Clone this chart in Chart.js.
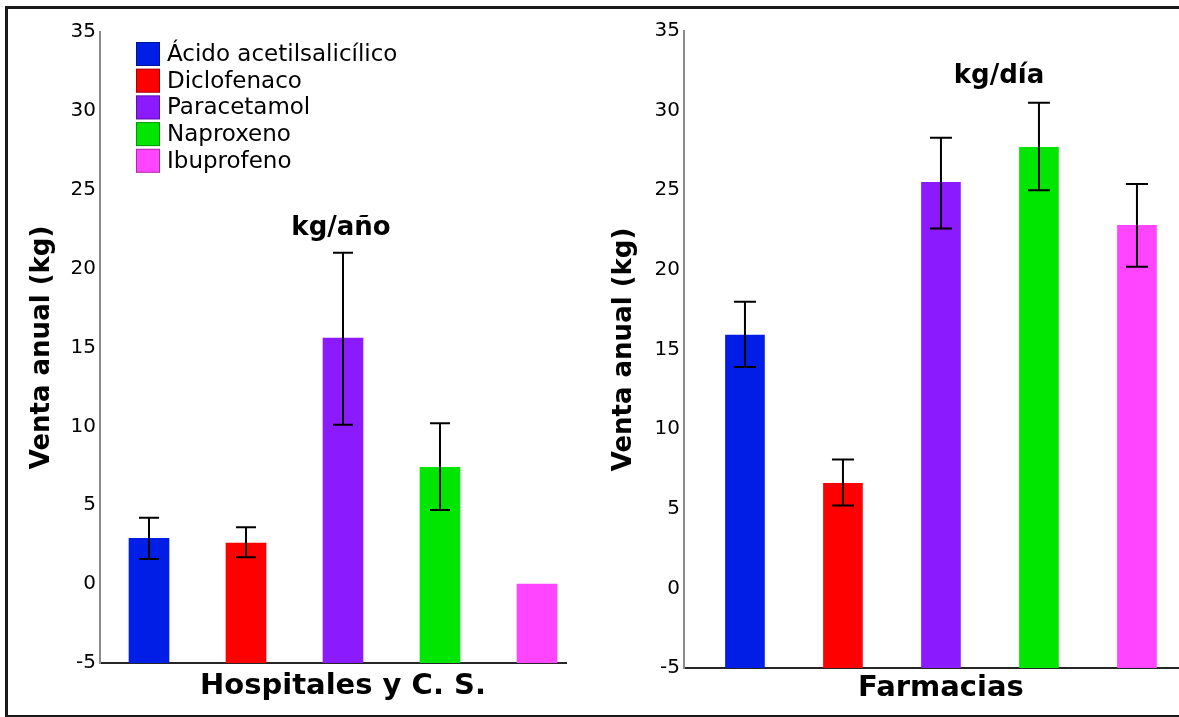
<!DOCTYPE html>
<html>
<head>
<meta charset="utf-8">
<script src="https://cdn.jsdelivr.net/npm/chart.js@4.4.1/dist/chart.umd.min.js"></script>
<style>
  body { margin: 0; width: 1179px; height: 717px; overflow: hidden; background: #fff; position: relative; }
  #frame { position: absolute; left: 5px; top: 6px; width: 1200px; height: 706px; border: 3px solid #1a1a1a; border-right: none; }
  #c1 { position: absolute; left: 0; top: 0; }
  #c2 { position: absolute; left: 590px; top: 0; }
</style>
</head>
<body>
<div id="frame"></div>
<canvas id="c1" width="590" height="717"></canvas>
<canvas id="c2" width="589" height="717"></canvas>
<script>
const categories = ['Ácido acetilsalicílico', 'Diclofenaco', 'Paracetamol', 'Naproxeno', 'Ibuprofeno'];
const colors = ['#001ee6', '#ff0000', '#8c1aff', '#00e600', '#ff45ff'];

// Hospitales y C. S. (kg/año)
const hospValues = [2.9, 2.6, 15.6, 7.4, 0.0];
const hospLow = [1.6, 1.7, 10.1, 4.7, null];
const hospHigh = [4.2, 3.6, 21.0, 10.2, null];

// Farmacias (kg/día)
const farmValues = [15.9, 6.6, 25.5, 27.7, 22.8];
const farmLow = [13.9, 5.2, 22.6, 25.0, 20.2];
const farmHigh = [18.0, 8.1, 28.3, 30.5, 25.4];

const yMin = -5, yMax = 35, yStep = 5;

const FONT = '"DejaVu Sans", "Liberation Sans", Arial, sans-serif';

const errorBars = {
    id: 'errorBars',
    afterDatasetsDraw(chart, args, opts) {
        const ctx = chart.ctx;
        const y = chart.scales.y;
        const meta = chart.getDatasetMeta(0);
        ctx.save();
        ctx.strokeStyle = '#000';
        ctx.lineWidth = 2;
        meta.data.forEach((bar, i) => {
            const lo = opts.low[i], hi = opts.high[i];
            if (lo == null || hi == null) return;
            const yl = y.getPixelForValue(lo), yh = y.getPixelForValue(hi);
            const half = opts.cap / 2;
            ctx.beginPath();
            ctx.moveTo(bar.x, yl); ctx.lineTo(bar.x, yh);
            ctx.moveTo(bar.x - half, yl); ctx.lineTo(bar.x + half, yl);
            ctx.moveTo(bar.x - half, yh); ctx.lineTo(bar.x + half, yh);
            ctx.stroke();
        });
        ctx.restore();
    }
};

// unit label, group label under the bars, and the legend
const panelText = {
    id: 'panelText',
    afterDraw(chart, args, opts) {
        const ctx = chart.ctx;
        const bars = chart.getDatasetMeta(0).data;
        ctx.save();
        ctx.fillStyle = '#000';
        ctx.font = 'bold 26px ' + FONT;
        ctx.textAlign = 'center';
        ctx.textBaseline = 'alphabetic';
        ctx.fillText(opts.unit, opts.unitX, opts.unitY);

        ctx.font = 'bold 29px ' + FONT;
        ctx.textBaseline = 'middle';
        const mid = (bars[0].x + bars[bars.length - 1].x) / 2;
        ctx.fillText(opts.group, mid, opts.groupY);

        if (opts.legend) {
            const lg = opts.legend;
            ctx.font = '23px ' + FONT;
            ctx.textAlign = 'left';
            categories.forEach((name, i) => {
                const top = lg.y + i * lg.row;
                ctx.fillStyle = colors[i];
                ctx.fillRect(lg.x, top, lg.box, lg.box);
                ctx.strokeStyle = 'rgba(0,0,0,0.35)';
                ctx.lineWidth = 1;
                ctx.strokeRect(lg.x + 0.5, top + 0.5, lg.box - 1, lg.box - 1);
                ctx.fillStyle = '#000';
                ctx.fillText(name, lg.x + lg.box + 7, top + lg.box / 2 + 1);
            });
        }
        ctx.restore();
    }
};

function makeChart(id, values, low, high, cfg) {
    return new Chart(document.getElementById(id), {
        type: 'bar',
        data: {
            labels: categories,
            datasets: [{
                data: values.map((v, i) => ({ x: i, y: v })),
                backgroundColor: colors,
                borderWidth: 0,
                base: yMin,
                barThickness: cfg.barWidth
            }]
        },
        plugins: [errorBars, panelText],
        options: {
            responsive: false,
            animation: false,
            events: [],
            layout: { padding: { top: cfg.top, right: cfg.right, left: 0, bottom: 0 } },
            scales: {
                x: {
                    type: 'linear',
                    offset: false,
                    min: cfg.xMin,
                    max: cfg.xMax,
                    grid: { display: false, offset: false },
                    ticks: { display: false },
                    border: { display: true, color: '#262626', width: 2 },
                    afterFit: s => { s.height = cfg.xHeight; }
                },
                y: {
                    min: yMin,
                    max: yMax,
                    ticks: {
                        stepSize: yStep,
                        color: '#000',
                        padding: 4,
                        font: { family: FONT, size: 20 }
                    },
                    grid: { display: false, drawTicks: false },
                    border: { display: true, color: '#8a8a8a', width: 2 },
                    title: {
                        display: true,
                        text: 'Venta anual (kg)',
                        color: '#000',
                        font: { family: FONT, size: 26, weight: 'bold' },
                        padding: { top: cfg.yTitlePad, bottom: 0 }
                    },
                    afterFit: s => { s.width = cfg.yWidth; }
                }
            },
            plugins: {
                legend: { display: false },
                tooltip: { enabled: false },
                errorBars: { low: low, high: high, cap: cfg.cap },
                panelText: {
                    unit: cfg.unit, unitX: cfg.unitX, unitY: cfg.unitY,
                    group: cfg.group, groupY: cfg.groupY, legend: cfg.legend
                }
            }
        }
    });
}

makeChart('c1', hospValues, hospLow, hospHigh, {
    top: 32, right: 24, yWidth: 100, xHeight: 54,
    xMin: -0.505, xMax: 4.299, barWidth: 40, cap: 20,
    group: 'Hospitales y C. S.', groupY: 686, yTitlePad: 27,
    unit: 'kg/año', unitX: 341, unitY: 235,
    legend: { x: 136, y: 42, box: 24, row: 26.7 }
});

makeChart('c2', farmValues, farmLow, farmHigh, {
    top: 31, right: 0, yWidth: 94, xHeight: 49,
    xMin: -0.622, xMax: 4.429, barWidth: 39, cap: 22,
    group: 'Farmacias', groupY: 688, yTitlePad: 19,
    unit: 'kg/día', unitX: 409, unitY: 83,
    legend: null
});
</script>
</body>
</html>
